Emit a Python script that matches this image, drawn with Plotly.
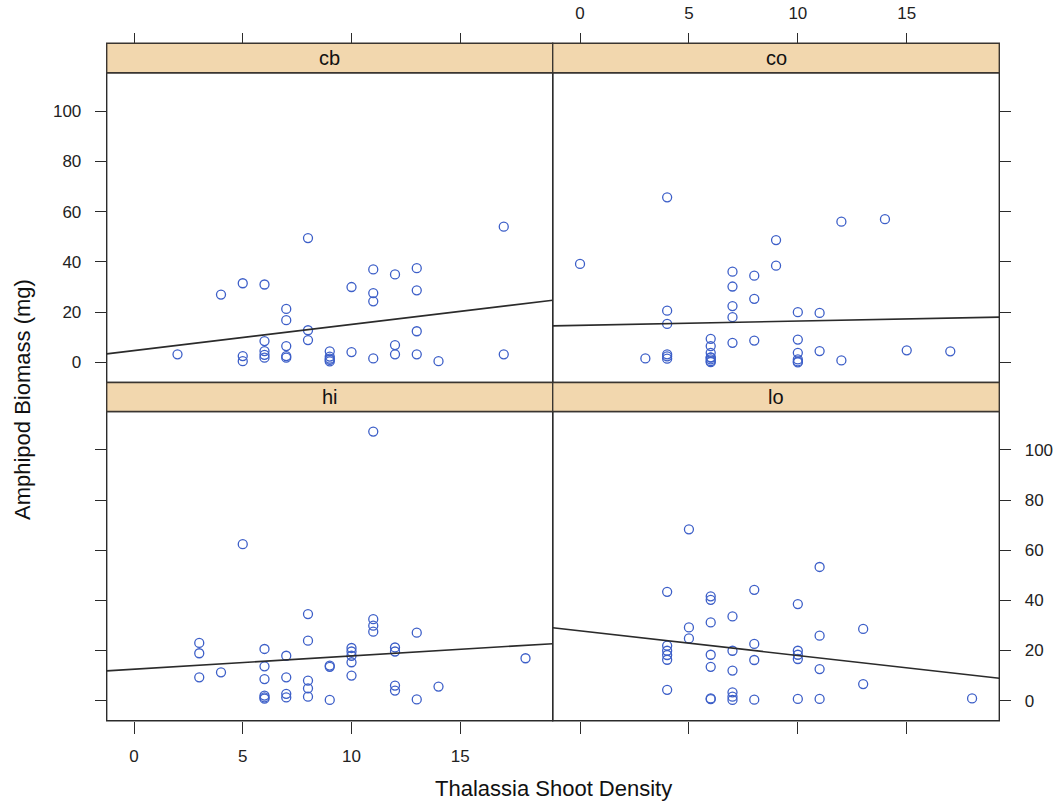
import numpy as np
import plotly.graph_objects as go

W, H = 1059, 806

panels = ["cb", "co", "hi", "lo"]

cb_x = [2, 4, 5, 6, 8, 17, 11, 12, 13, 10, 11, 11, 13, 7, 7, 8, 8, 13, 6, 6, 6, 6, 5, 5, 7, 7, 7, 9, 9, 9, 9, 9, 10, 11, 12, 12, 13, 14, 17]
cb_y = [3.2, 27, 31.5, 31, 49.5, 54, 37, 35, 37.5, 30, 27.6, 24.3, 28.7, 21.3, 16.8, 12.8, 8.9, 12.4, 8.5, 4.5, 3.0, 1.9, 2.5, 0.5, 6.5, 2.5, 1.9, 4.4, 2.3, 1.5, 1.0, 0.4, 4.1, 1.6, 6.9, 3.2, 3.2, 0.5, 3.2]

co_x = [0, 4, 12, 14, 9, 9, 7, 7, 7, 7, 7, 8, 8, 8, 4, 4, 4, 4, 4, 3, 6, 6, 6, 6, 6, 6, 6, 6, 10, 10, 10, 10, 10, 10, 11, 11, 12, 15, 17]
co_y = [39.2, 65.7, 56, 57, 48.7, 38.5, 36.1, 30.2, 22.4, 18, 7.8, 34.5, 25.3, 8.7, 20.6, 15.3, 3.2, 2.4, 1.5, 1.6, 9.4, 6.5, 3.8, 2.0, 1.9, 1.2, 0.5, 0.1, 20, 9.1, 3.8, 1.2, 0.4, 0, 19.7, 4.5, 0.8, 4.8, 4.4]

hi_x = [11, 5, 8, 11, 11, 11, 13, 3, 3, 3, 4, 6, 6, 6, 6, 6, 6, 7, 7, 7, 7, 8, 8, 8, 8, 9, 9, 9, 10, 10, 10, 10, 10, 12, 12, 12, 12, 13, 14, 18]
hi_y = [107.3, 62.4, 34.5, 32.5, 29.9, 27.5, 27.1, 23, 18.9, 9.3, 11.3, 20.6, 13.7, 8.6, 2, 1.3, 0.8, 17.9, 9.3, 2.7, 1.3, 23.9, 8, 4.9, 1.6, 14, 13.5, 0.3, 21, 19.6, 17.9, 15.3, 10, 21.2, 19.6, 6, 4, 0.5, 5.6, 16.9]

lo_x = [5, 11, 4, 6, 6, 8, 10, 7, 6, 5, 5, 13, 11, 4, 4, 4, 4, 8, 8, 7, 7, 6, 6, 10, 10, 10, 11, 13, 4, 6, 6, 7, 7, 7, 8, 10, 11, 18]
lo_y = [68.3, 53.3, 43.4, 41.6, 40.2, 44.2, 38.5, 33.6, 31.2, 29.2, 24.8, 28.6, 25.9, 21.9, 19.9, 18.2, 16.3, 22.6, 16.2, 19.9, 12, 18.3, 13.5, 19.9, 18.3, 16.6, 12.6, 6.6, 4.3, 0.9, 0.6, 3.3, 1.6, 0.3, 0.4, 0.7, 0.7, 0.9]

x_ticks = [0, 5, 10, 15]
y_ticks = [0, 20, 40, 60, 80, 100]

data = {"cb": (cb_x, cb_y), "co": (co_x, co_y), "hi": (hi_x, hi_y), "lo": (lo_x, lo_y)}

XR = [-1.255, 19.25]
YR = [-8.0, 115.3]

# pixel geometry
left, mid, right = 106.7, 552.7, 999.3
strip_top1, strip_bot1, panel_bot1 = 43.3, 72.7, 382.5
strip_top2, strip_bot2, panel_bot2 = 382.5, 411.5, 720.7

px = lambda v: v / W
py = lambda v: (H - v) / H

dom_x = {"cb": [px(left), px(mid)], "co": [px(mid), px(right)],
         "hi": [px(left), px(mid)], "lo": [px(mid), px(right)]}
dom_y = {"cb": [py(panel_bot1), py(strip_bot1)], "co": [py(panel_bot1), py(strip_bot1)],
         "hi": [py(panel_bot2), py(strip_bot2)], "lo": [py(panel_bot2), py(strip_bot2)]}

COL = "#3d5fc8"
LINE = "#2b2b2b"
FONT = "Liberation Sans, Arial, sans-serif"

fig = go.Figure()
for i, p in enumerate(panels, start=1):
    xs, ys = data[p]
    sfx = "" if i == 1 else str(i)
    fig.add_trace(go.Scatter(x=xs, y=ys, mode="markers", xaxis="x" + sfx, yaxis="y" + sfx,
                             marker=dict(symbol="circle-open", size=9, color=COL, line=dict(width=1.3, color=COL)),
                             showlegend=False, cliponaxis=True))
    b, a = np.polyfit(np.array(xs, float), np.array(ys, float), 1)
    lx = np.array(XR)
    fig.add_trace(go.Scatter(x=lx, y=a + b * lx, mode="lines", xaxis="x" + sfx, yaxis="y" + sfx,
                             line=dict(color=LINE, width=1.6), showlegend=False))

tickfont = dict(family=FONT, size=17, color="#222")
common = dict(showgrid=False, zeroline=False, showline=False, ticks="outside", ticklen=11,
              tickwidth=1.2, tickcolor=LINE, tickfont=tickfont, fixedrange=True)

layout = dict(width=W, height=H, margin=dict(l=0, r=0, t=0, b=0),
              paper_bgcolor="white", plot_bgcolor="white", showlegend=False)

for i, p in enumerate(panels, start=1):
    sfx = "" if i == 1 else str(i)
    xa = dict(common, domain=dom_x[p], range=XR, tickvals=x_ticks, ticktext=[str(t) for t in x_ticks])
    ya = dict(common, domain=dom_y[p], range=YR, tickvals=y_ticks, ticktext=[str(t) for t in y_ticks],
              anchor="x" + sfx)
    if p in ("cb", "co"):
        xa.update(side="top", anchor="free", position=py(strip_top1), showticklabels=(p == "co"),
                  ticklabelstandoff=8, ticklen=10)
    else:
        xa.update(side="bottom", anchor="y" + sfx, showticklabels=(p == "hi"), ticklabelstandoff=8,
                  ticklen=12)
    if p in ("cb", "hi"):
        ya.update(side="left", showticklabels=(p == "cb"), ticklabelstandoff=10)
    else:
        ya.update(side="right", showticklabels=(p == "lo"), ticklabelstandoff=10)
    layout["xaxis" + sfx] = xa
    layout["yaxis" + sfx] = ya

shapes = []
annotations = []
STRIP = "#f2d7ae"
for p in panels:
    x0, x1 = dom_x[p]
    y0, y1 = dom_y[p]
    st_top = strip_top1 if p in ("cb", "co") else strip_top2
    shapes.append(dict(type="rect", xref="paper", yref="paper", x0=x0, x1=x1, y0=y0, y1=y1,
                       line=dict(color=LINE, width=1.4), fillcolor="rgba(0,0,0,0)", layer="above"))
    shapes.append(dict(type="rect", xref="paper", yref="paper", x0=x0, x1=x1, y0=y1, y1=py(st_top),
                       line=dict(color="#3a3530", width=1.4), fillcolor=STRIP, layer="above"))
    annotations.append(dict(text=p, xref="paper", yref="paper", x=(x0 + x1) / 2, y=(y1 + py(st_top)) / 2,
                            showarrow=False, xanchor="center", yanchor="middle",
                            font=dict(family=FONT, size=20, color="#111")))

annotations.append(dict(text="Thalassia Shoot Density", xref="paper", yref="paper", x=px(554), y=py(788),
                        showarrow=False, xanchor="center", yanchor="middle",
                        font=dict(family=FONT, size=22, color="#111")))
annotations.append(dict(text="Amphipod Biomass (mg)", xref="paper", yref="paper", x=px(22), y=py(400),
                        showarrow=False, xanchor="center", yanchor="middle", textangle=-90,
                        font=dict(family=FONT, size=22, color="#111")))

layout["shapes"] = shapes
layout["annotations"] = annotations
fig.update_layout(**layout)
fig.write_html("out.html")
